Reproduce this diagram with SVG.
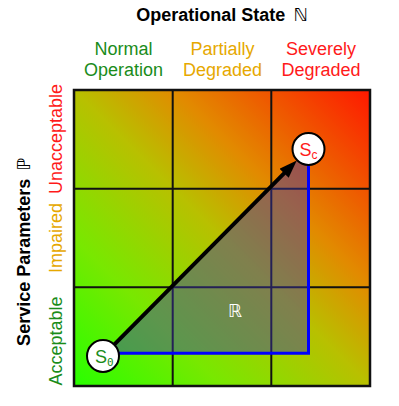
<svg xmlns="http://www.w3.org/2000/svg" width="399" height="406" viewBox="0 0 399 406">
<style>
text{font-family:"Liberation Sans",Arial,"DejaVu Sans",sans-serif;font-size:18px}
.title{font-weight:bold;fill:#000}
.green{fill:#1a8c1a}
.orange{fill:#e6a800}
.red{fill:#ff1a1a}
.grid{stroke:#111;stroke-width:2;fill:none}
.node circle{fill:#fff;stroke:#000;stroke-width:2}
</style>
<defs>
<linearGradient id="bg" gradientUnits="userSpaceOnUse" x1="74" y1="386" x2="370" y2="90">
<stop offset="0" stop-color="#28ff00"/>
<stop offset="0.25" stop-color="#78e800"/>
<stop offset="0.5" stop-color="#b8c000"/>
<stop offset="0.67" stop-color="#e28a00"/>
<stop offset="1" stop-color="#ff1800"/>
</linearGradient>
<marker id="ah" markerUnits="userSpaceOnUse" viewBox="0 0 18 13" markerWidth="18" markerHeight="13" refX="7" refY="6.5" orient="auto">
<path d="M0,0 L18,6.5 L0,13 z" fill="#000"/>
</marker>
</defs>
<rect width="399" height="406" fill="#fff"/>
<text class="title" x="222" y="21" text-anchor="middle">Operational State<tspan dx="8" font-family="DejaVu Sans" font-weight="normal">ℕ</tspan></text>
<g id="col-labels" text-anchor="middle">
<text class="green" x="123.5" y="55">Normal</text>
<text class="green" x="123.5" y="76">Operation</text>
<text class="orange" x="222.5" y="55">Partially</text>
<text class="orange" x="222.5" y="76">Degraded</text>
<text class="red" x="321" y="55">Severely</text>
<text class="red" x="321" y="76">Degraded</text>
</g>
<text class="title" transform="translate(30,252) rotate(-90)" text-anchor="middle">Service Parameters<tspan dx="8" font-family="DejaVu Sans" font-weight="normal">ℙ</tspan></text>
<g id="row-labels" text-anchor="middle">
<text class="red" transform="translate(62,139) rotate(-90)">Unacceptable</text>
<text class="orange" transform="translate(62,238) rotate(-90)">Impaired</text>
<text class="green" transform="translate(62,341) rotate(-90)">Acceptable</text>
</g>
<g id="grid">
<rect x="74" y="90" width="296" height="296" fill="url(#bg)"/>
<path class="grid" d="M172.7,90V386M271.3,90V386M74,188.7H370M74,287.3H370"/>
<rect x="74" y="90" width="296" height="296" fill="none" stroke="#111" stroke-width="2.5"/>
</g>
<g id="region">
<polygon points="103,354 308.5,149 308.5,353.3" fill="#3c32aa" fill-opacity="0.45"/>
<text x="235" y="317" text-anchor="middle" fill="#fff" font-family="DejaVu Sans" font-size="22">ℝ</text>
</g>
<g id="connectors">
<path d="M103,353.3H308.5V160" fill="none" stroke="#0000ff" stroke-width="3"/>
<line x1="114.2" y1="344.6" x2="289" y2="168.3" stroke="#000" stroke-width="4" marker-end="url(#ah)"/>
</g>
<g id="S0" class="node">
<circle cx="103" cy="356" r="16"/>
<text class="green" x="95" y="362.5">S<tspan font-family="DejaVu Sans Mono" font-size="11" dy="3">0</tspan></text>
</g>
<g id="Sc" class="node">
<circle cx="308.5" cy="149" r="16"/>
<text class="red" x="299.5" y="155.5">S<tspan font-size="12" dy="3">c</tspan></text>
</g>
</svg>
